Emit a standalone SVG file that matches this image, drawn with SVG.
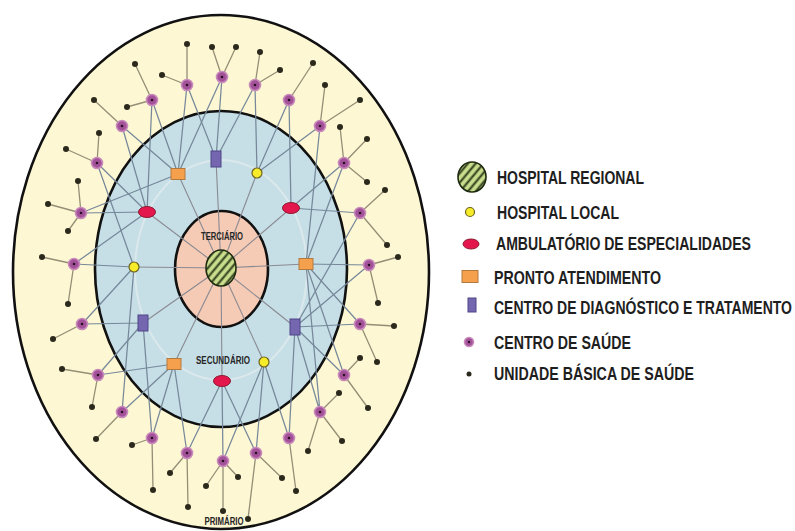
<svg xmlns="http://www.w3.org/2000/svg" width="795" height="531" viewBox="0 0 795 531">
<defs>
<pattern id="hatch" patternUnits="userSpaceOnUse" width="6" height="6" patternTransform="rotate(40)">
<rect width="6" height="6" fill="#c9dd8c"/>
<line x1="1.5" y1="0" x2="1.5" y2="6" stroke="#2d3a1a" stroke-width="2"/>
</pattern>
<style>
.zone{stroke:#111;stroke-width:2.6}
.ring{fill:none;stroke:#dbe8ec;stroke-width:2}
.ubsl{stroke:#948e76;stroke-width:1.3}
.csl{stroke:#76889a;stroke-width:1.25}
.spk{stroke:#8a8a92;stroke-width:1.1}
.cs{fill:#a3529a;stroke:#c98bbb;stroke-width:1.6}
.csd{fill:#2a1024}
.ubs{fill:#2b281c}
.pu{fill:#7467b0;stroke:#4e4688;stroke-width:1}
.or{fill:#f5a04c;stroke:#b37a40;stroke-width:1}
.ye{fill:#f7ec2a;stroke:#6e6320;stroke-width:1.2}
.re{fill:#e3174b;stroke:#8e1a33;stroke-width:1}
.hr{fill:url(#hatch);stroke:#1e2a10;stroke-width:1.6}
.lvl{font-family:"Liberation Sans",Arial,sans-serif;font-weight:bold;font-size:11px;fill:#262626;text-anchor:middle}
.leg{font-family:"Liberation Sans",Arial,sans-serif;font-weight:bold;font-size:13.5px;fill:#1e1e1e}
</style>
</defs>

<g id="zones">
<ellipse class="zone" cx="221" cy="272" rx="208" ry="257" fill="#fdf7d3"/>
<ellipse class="zone" cx="221" cy="269" rx="126" ry="158" fill="#c6dfe6"/>
<ellipse class="zone" cx="221.5" cy="269" rx="46.5" ry="58" fill="#f6cbb5"/>
<ellipse class="ring" cx="221" cy="270" rx="86" ry="110"/>
</g>

<g id="connectors">
<g class="spk">
<line x1="221" y1="268" x2="216" y2="159"/>
<line x1="221" y1="268" x2="178" y2="174"/>
<line x1="221" y1="268" x2="257" y2="173"/>
<line x1="221" y1="268" x2="147" y2="212"/>
<line x1="221" y1="268" x2="291" y2="208"/>
<line x1="221" y1="268" x2="134" y2="267"/>
<line x1="221" y1="268" x2="306" y2="264"/>
<line x1="221" y1="268" x2="143" y2="323"/>
<line x1="221" y1="268" x2="295" y2="327"/>
<line x1="221" y1="268" x2="174" y2="364"/>
<line x1="221" y1="268" x2="264" y2="362"/>
<line x1="221" y1="268" x2="222" y2="381"/>
</g>
<g class="csl">
<path d="M187 85L178 174M187 85L216 159"/>
<path d="M222 77L216 159M222 77L178 174"/>
<path d="M255 85L257 173M255 85L216 159"/>
<path d="M152 100L178 174M152 100L147 212"/>
<path d="M289 100L291 208M289 100L257 173"/>
<path d="M122 126L147 212M122 126L178 174"/>
<path d="M320 126L257 173M320 126L306 264"/>
<path d="M97 163L147 212M97 163L134 267"/>
<path d="M344 163L291 208M344 163L306 264"/>
<path d="M81 213L147 212M81 213L178 174"/>
<path d="M360 213L291 208M360 213L295 327"/>
<path d="M74 264L134 267M74 264L147 212"/>
<path d="M369 265L306 264M369 265L295 327"/>
<path d="M82 324L143 323M82 324L134 267"/>
<path d="M360 324L295 327M360 324L306 264"/>
<path d="M98 375L143 323M98 375L174 364"/>
<path d="M344 375L295 327M344 375L306 264"/>
<path d="M122 412L174 364M122 412L134 267"/>
<path d="M320 412L295 327M320 412L306 264"/>
<path d="M152 438L174 364M152 438L143 323"/>
<path d="M289 438L264 362M289 438L295 327"/>
<path d="M187 453L174 364M187 453L222 381"/>
<path d="M223 461L222 381M223 461L264 362"/>
<path d="M256 453L264 362M256 453L222 381"/>
</g>
<g class="ubsl">
<path d="M187 85L187 44M187 85L162 75"/>
<path d="M222 77L212 47M222 77L236 47"/>
<path d="M255 85L260 52M255 85L280 70"/>
<path d="M152 100L135 64M152 100L127 107"/>
<path d="M289 100L313 63"/>
<path d="M122 126L94 100"/>
<path d="M320 126L325 85M320 126L360 100"/>
<path d="M97 163L66 149M97 163L99 133"/>
<path d="M344 163L340 127M344 163L367 139M344 163L367 182"/>
<path d="M81 213L78 181M81 213L48 204M81 213L68 231"/>
<path d="M360 213L385 190M360 213L387 245"/>
<path d="M74 264L42 257M74 264L68 304"/>
<path d="M369 265L398 257M369 265L378 303"/>
<path d="M82 324L53 339"/>
<path d="M360 324L394 326M360 324L377 362"/>
<path d="M98 375L62 369M98 375L92 407"/>
<path d="M344 375L360 358M344 375L368 408"/>
<path d="M122 412L96 439"/>
<path d="M320 412L339 393M320 412L342 441M320 412L308 451"/>
<path d="M152 438L132 445M152 438L153 490"/>
<path d="M289 438L296 491"/>
<path d="M187 453L170 473M187 453L188 507"/>
<path d="M223 461L206 486M223 461L238 477M223 461L223 511"/>
<path d="M256 453L282 478M256 453L248 519"/>
</g>
</g>

<g id="hospital-regional"><ellipse class="hr" cx="221" cy="268" rx="15" ry="18"/></g>

<g id="secundario-nodes">
<g id="cdt-top"><rect class="pu" x="211" y="151" width="10" height="16"/></g>
<g id="cdt-left"><rect class="pu" x="138" y="315" width="10" height="16"/></g>
<g id="cdt-right"><rect class="pu" x="290" y="319" width="10" height="16"/></g>
<g id="pa-topleft"><rect class="or" x="171" y="168.5" width="14" height="11"/></g>
<g id="pa-right"><rect class="or" x="299" y="258.5" width="14" height="11"/></g>
<g id="pa-bottomleft"><rect class="or" x="167" y="358.5" width="14" height="11"/></g>
<g id="hl-topright"><circle class="ye" cx="257" cy="173" r="5"/></g>
<g id="hl-left"><circle class="ye" cx="134" cy="267" r="5"/></g>
<g id="hl-bottomright"><circle class="ye" cx="264" cy="362" r="5"/></g>
<g id="ae-left"><ellipse class="re" cx="147" cy="212" rx="8.5" ry="5.5"/></g>
<g id="ae-right"><ellipse class="re" cx="291" cy="208" rx="8.5" ry="5.5"/></g>
<g id="ae-bottom"><ellipse class="re" cx="222" cy="381" rx="8.5" ry="5.5"/></g>
</g>

<g id="centros-de-saude">
<g id="cs1"><circle class="cs" cx="187" cy="85" r="5.5"/><circle class="csd" cx="187" cy="85" r="1.3"/></g>
<g id="cs2"><circle class="cs" cx="222" cy="77" r="5.5"/><circle class="csd" cx="222" cy="77" r="1.3"/></g>
<g id="cs3"><circle class="cs" cx="255" cy="85" r="5.5"/><circle class="csd" cx="255" cy="85" r="1.3"/></g>
<g id="cs4"><circle class="cs" cx="152" cy="100" r="5.5"/><circle class="csd" cx="152" cy="100" r="1.3"/></g>
<g id="cs5"><circle class="cs" cx="289" cy="100" r="5.5"/><circle class="csd" cx="289" cy="100" r="1.3"/></g>
<g id="cs6"><circle class="cs" cx="122" cy="126" r="5.5"/><circle class="csd" cx="122" cy="126" r="1.3"/></g>
<g id="cs7"><circle class="cs" cx="320" cy="126" r="5.5"/><circle class="csd" cx="320" cy="126" r="1.3"/></g>
<g id="cs8"><circle class="cs" cx="97" cy="163" r="5.5"/><circle class="csd" cx="97" cy="163" r="1.3"/></g>
<g id="cs9"><circle class="cs" cx="344" cy="163" r="5.5"/><circle class="csd" cx="344" cy="163" r="1.3"/></g>
<g id="cs10"><circle class="cs" cx="81" cy="213" r="5.5"/><circle class="csd" cx="81" cy="213" r="1.3"/></g>
<g id="cs11"><circle class="cs" cx="360" cy="213" r="5.5"/><circle class="csd" cx="360" cy="213" r="1.3"/></g>
<g id="cs12"><circle class="cs" cx="74" cy="264" r="5.5"/><circle class="csd" cx="74" cy="264" r="1.3"/></g>
<g id="cs13"><circle class="cs" cx="369" cy="265" r="5.5"/><circle class="csd" cx="369" cy="265" r="1.3"/></g>
<g id="cs14"><circle class="cs" cx="82" cy="324" r="5.5"/><circle class="csd" cx="82" cy="324" r="1.3"/></g>
<g id="cs15"><circle class="cs" cx="360" cy="324" r="5.5"/><circle class="csd" cx="360" cy="324" r="1.3"/></g>
<g id="cs16"><circle class="cs" cx="98" cy="375" r="5.5"/><circle class="csd" cx="98" cy="375" r="1.3"/></g>
<g id="cs17"><circle class="cs" cx="344" cy="375" r="5.5"/><circle class="csd" cx="344" cy="375" r="1.3"/></g>
<g id="cs18"><circle class="cs" cx="122" cy="412" r="5.5"/><circle class="csd" cx="122" cy="412" r="1.3"/></g>
<g id="cs19"><circle class="cs" cx="320" cy="412" r="5.5"/><circle class="csd" cx="320" cy="412" r="1.3"/></g>
<g id="cs20"><circle class="cs" cx="152" cy="438" r="5.5"/><circle class="csd" cx="152" cy="438" r="1.3"/></g>
<g id="cs21"><circle class="cs" cx="289" cy="438" r="5.5"/><circle class="csd" cx="289" cy="438" r="1.3"/></g>
<g id="cs22"><circle class="cs" cx="187" cy="453" r="5.5"/><circle class="csd" cx="187" cy="453" r="1.3"/></g>
<g id="cs23"><circle class="cs" cx="223" cy="461" r="5.5"/><circle class="csd" cx="223" cy="461" r="1.3"/></g>
<g id="cs24"><circle class="cs" cx="256" cy="453" r="5.5"/><circle class="csd" cx="256" cy="453" r="1.3"/></g>
</g>

<g id="unidades-basicas" class="ubs">
<circle cx="187" cy="44" r="3"/><circle cx="212" cy="47" r="3"/><circle cx="236" cy="47" r="3"/><circle cx="260" cy="52" r="3"/>
<circle cx="135" cy="64" r="3"/><circle cx="280" cy="70" r="3"/><circle cx="313" cy="63" r="3"/><circle cx="162" cy="75" r="3"/>
<circle cx="325" cy="85" r="3"/><circle cx="94" cy="100" r="3"/><circle cx="127" cy="107" r="3"/><circle cx="360" cy="100" r="3"/>
<circle cx="99" cy="133" r="3"/><circle cx="340" cy="127" r="3"/><circle cx="367" cy="139" r="3"/><circle cx="66" cy="149" r="3"/>
<circle cx="367" cy="182" r="3"/><circle cx="78" cy="181" r="3"/><circle cx="385" cy="190" r="3"/><circle cx="48" cy="204" r="3"/>
<circle cx="68" cy="231" r="3"/><circle cx="387" cy="245" r="3"/><circle cx="42" cy="257" r="3"/><circle cx="398" cy="257" r="3"/>
<circle cx="68" cy="304" r="3"/><circle cx="378" cy="303" r="3"/><circle cx="53" cy="339" r="3"/><circle cx="394" cy="326" r="3"/>
<circle cx="62" cy="369" r="3"/><circle cx="360" cy="358" r="3"/><circle cx="377" cy="362" r="3"/><circle cx="92" cy="407" r="3"/>
<circle cx="339" cy="393" r="3"/><circle cx="368" cy="408" r="3"/><circle cx="96" cy="439" r="3"/><circle cx="132" cy="445" r="3"/>
<circle cx="308" cy="451" r="3"/><circle cx="342" cy="441" r="3"/><circle cx="170" cy="473" r="3"/><circle cx="153" cy="490" r="3"/>
<circle cx="188" cy="507" r="3"/><circle cx="206" cy="486" r="3"/><circle cx="238" cy="477" r="3"/><circle cx="223" cy="511" r="3"/>
<circle cx="248" cy="519" r="3"/><circle cx="282" cy="478" r="3"/><circle cx="296" cy="491" r="3"/>
</g>

<g id="level-labels">
<text class="lvl" x="222" y="240" textLength="42" lengthAdjust="spacingAndGlyphs">TERCIÁRIO</text>
<text class="lvl" x="223" y="364" textLength="54" lengthAdjust="spacingAndGlyphs">SECUNDÁRIO</text>
<text class="lvl" x="224" y="524.5" textLength="39" lengthAdjust="spacingAndGlyphs">PRIMÁRIO</text>
</g>

<g id="legend">
<g id="leg-hr"><ellipse class="hr" cx="472" cy="177" rx="14" ry="15"/><text class="leg" transform="translate(497 184) scale(1 1.3)" textLength="147" lengthAdjust="spacingAndGlyphs">HOSPITAL REGIONAL</text></g>
<g id="leg-hl"><circle class="ye" cx="470" cy="212" r="4.5"/><text class="leg" transform="translate(497 218.5) scale(1 1.3)" textLength="122" lengthAdjust="spacingAndGlyphs">HOSPITAL LOCAL</text></g>
<g id="leg-ae"><ellipse class="re" cx="471" cy="244" rx="8" ry="5"/><text class="leg" transform="translate(496 250) scale(1 1.3)" textLength="255" lengthAdjust="spacingAndGlyphs">AMBULATÓRIO DE ESPECIALIDADES</text></g>
<g id="leg-pa"><rect class="or" x="462" y="270.5" width="16" height="12"/><text class="leg" transform="translate(494 283.5) scale(1 1.3)" textLength="167" lengthAdjust="spacingAndGlyphs">PRONTO ATENDIMENTO</text></g>
<g id="leg-cdt"><rect class="pu" x="468" y="298" width="8" height="14"/><text class="leg" transform="translate(494 314) scale(1 1.3)" textLength="298" lengthAdjust="spacingAndGlyphs">CENTRO DE DIAGNÓSTICO E TRATAMENTO</text></g>
<g id="leg-cs"><circle class="cs" cx="469" cy="342" r="4.5"/><circle class="csd" cx="469" cy="342" r="1.2"/><text class="leg" transform="translate(494 348.5) scale(1 1.3)" textLength="137" lengthAdjust="spacingAndGlyphs">CENTRO DE SAÚDE</text></g>
<g id="leg-ubs"><circle class="ubs" cx="469" cy="374" r="2.5"/><text class="leg" transform="translate(494 380) scale(1 1.3)" textLength="200" lengthAdjust="spacingAndGlyphs">UNIDADE BÁSICA DE SAÚDE</text></g>
</g>
</svg>
